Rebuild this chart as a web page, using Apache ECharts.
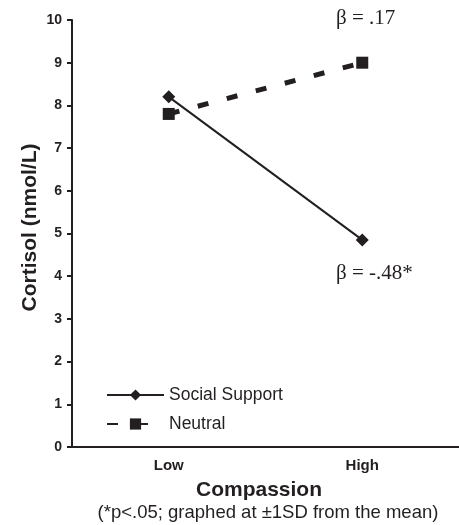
<!DOCTYPE html>
<html>
<head>
<meta charset="utf-8">
<script src="https://cdn.jsdelivr.net/npm/echarts@6/dist/echarts.min.js"></script>
<style>html,body{margin:0;padding:0;background:#fff;}#c{width:459px;height:525px;}</style>
</head>
<body>
<div id="c"></div>
<script>
const categories = ['Low', 'High'];
const socialSupport = [8.2, 4.85];
const neutral = [7.8, 9.0];
const yTicks = [0, 1, 2, 3, 4, 5, 6, 7, 8, 9, 10];

const ink = '#231f20';
const chart = echarts.init(document.getElementById('c'));
chart.setOption({
  animation: false,
  backgroundColor: '#fff',
  grid: { left: 72, width: 392, top: 20, bottom: 78 },
  legend: {
    orient: 'vertical',
    left: 101, top: 381,
    itemWidth: 57, itemHeight: 14, itemGap: 11,
    textStyle: { fontFamily: 'Liberation Sans', fontSize: 17.5, lineHeight: 18, color: ink },
    data: ['Social Support', 'Neutral']
  },
  xAxis: {
    type: 'category',
    data: categories,
    boundaryGap: true,
    axisLine: { lineStyle: { color: ink, width: 2 } },
    axisTick: { length: 5, lineStyle: { color: ink, width: 2 } },
    axisLabel: { fontFamily: 'Liberation Sans', fontWeight: 'bold', fontSize: 15, color: ink, margin: 11 }
  },
  yAxis: {
    type: 'value',
    min: 0, max: 10, interval: 1,
    name: 'Cortisol (nmol/L)',
    nameLocation: 'middle',
    nameGap: 31,
    nameMoveOverlap: false,
    nameTextStyle: { fontFamily: 'Liberation Sans', fontWeight: 'bold', fontSize: 21, color: ink, padding: [0, 0, 0, 12] },
    axisLine: { show: true, lineStyle: { color: ink, width: 2 } },
    axisTick: { show: true, length: 5, lineStyle: { color: ink, width: 2 } },
    splitLine: { show: false },
    axisLabel: { fontFamily: 'Liberation Sans', fontWeight: 'bold', fontSize: 14, color: ink, margin: 10,
      formatter: v => yTicks.includes(v) ? String(v) : '' }
  },
  series: [
    {
      name: 'Social Support', type: 'line', data: socialSupport,
      symbol: 'diamond', symbolSize: 13,
      lineStyle: { color: ink, width: 2 },
      itemStyle: { color: ink }
    },
    {
      name: 'Neutral', type: 'line', data: neutral,
      symbol: 'rect', symbolSize: 12,
      lineStyle: { color: ink, width: 5, type: [11, 19] },
      itemStyle: { color: ink }
    }
  ],
  graphic: [
    { type: 'text', left: 336, top: 8, style: { text: 'β = .17', fontFamily: 'Liberation Serif', fontSize: 21, fill: ink } },
    { type: 'text', left: 336, top: 263, style: { text: 'β = -.48*', fontFamily: 'Liberation Serif', fontSize: 21, fill: ink } },
    { type: 'text', x: 259, y: 480, style: { text: 'Compassion', align: 'center', fontFamily: 'Liberation Sans', fontWeight: 'bold', fontSize: 21, fill: ink } },
    { type: 'text', x: 268, y: 503, style: { text: '(*p<.05; graphed at ±1SD from the mean)', align: 'center', fontFamily: 'Liberation Sans', fontSize: 18.5, fill: ink } }
  ]
});
</script>
</body>
</html>
